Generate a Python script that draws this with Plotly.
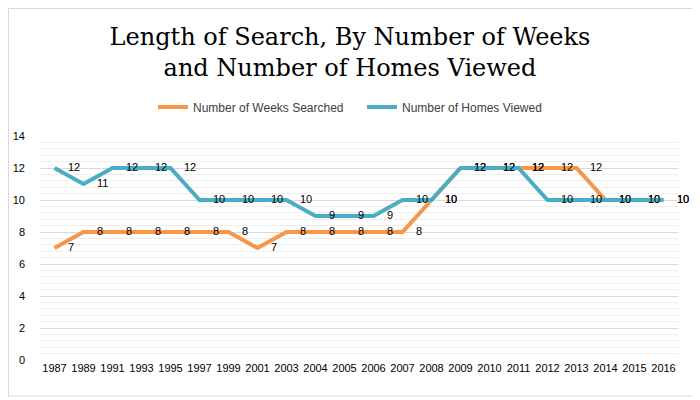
import plotly.graph_objs as go

# Chart data
years = ['1987', '1989', '1991', '1993', '1995', '1997', '1999', '2001', '2003', '2004', '2005',
         '2006', '2007', '2008', '2009', '2010', '2011', '2012', '2013', '2014', '2015', '2016']
weeks_searched = [7, 8, 8, 8, 8, 8, 8, 7, 8, 8, 8, 8, 8, 10, 12, 12, 12, 12, 12, 10, 10, 10]
homes_viewed = [12, 11, 12, 12, 12, 10, 10, 10, 10, 9, 9, 9, 10, 10, 12, 12, 12, 10, 10, 10, 10, 10]

# the page body adds an 8px offset, so the figure is drawn 8px smaller
W, H = 692, 392
margin = dict(l=32, r=22, t=128, b=40)
pw = W - margin['l'] - margin['r']
ph = H - margin['t'] - margin['b']


def line_trace(y_values, name, color):
    return go.Scatter(
        x=years, y=y_values, name=name,
        mode='lines+markers+text',
        line=dict(color=color, width=4),
        marker=dict(size=20, color='rgba(0,0,0,0)'),
        text=[str(v) for v in y_values],
        textposition='middle right',
        textfont=dict(family='Liberation Sans, Arial', size=11, color='#000000'),
        cliponaxis=False,
        hoverinfo='x+y+name'
    )


traces = [
    line_trace(weeks_searched, 'Number of Weeks Searched', '#F79646'),
    line_trace(homes_viewed, 'Number of Homes Viewed', '#4BACC6'),
]

layout = go.Layout(
    width=W, height=H,
    margin=margin,
    paper_bgcolor='white',
    plot_bgcolor='white',
    title=dict(
        text='Length of Search, By Number of Weeks<br>and Number of Homes Viewed',
        font=dict(family='DejaVu Serif, Liberation Serif, serif', size=24, color='#000000'),
        x=342 / W, xanchor='center', xref='container',
        y=1 - 37 / H, yanchor='middle', yref='container'
    ),
    showlegend=True,
    legend=dict(
        orientation='h', x=(145 - margin['l']) / pw, xanchor='left',
        y=1 + (margin['t'] - 99) / ph, yanchor='middle',
        font=dict(family='Liberation Sans, Arial', size=12, color='#404040'),
        itemwidth=30, entrywidth=164, entrywidthmode='pixels'
    ),
    xaxis=dict(
        type='category',
        automargin=False,
        showgrid=False,
        showline=False,
        ticks='',
        tickangle=0,
        tickfont=dict(family='Liberation Sans Narrow, Liberation Sans, Arial', size=11, color='#000000'),
        range=[-0.5, len(years) - 0.5]
    ),
    yaxis=dict(
        range=[0, 14],
        dtick=2,
        automargin=False,
        showgrid=True,
        gridcolor='#D9D9D9',
        gridwidth=1,
        zeroline=False,
        showline=False,
        ticks='',
        tickfont=dict(family='Liberation Sans, Arial', size=11, color='#000000'),
        ticklabelstandoff=14,
        minor=dict(dtick=0.4, showgrid=True, gridcolor='#EEEEEE', gridwidth=1)
    ),
    shapes=[dict(
        type='rect', xref='paper', yref='paper',
        x0=(0.5 - margin['l']) / pw, x1=(688 - margin['l']) / pw,
        y0=-(margin['b'] - (H - 388)) / ph, y1=(H - margin['b'] - 0.5) / ph,
        line=dict(color='#D9D9D9', width=1)
    )]
)

fig = go.Figure(data=traces, layout=layout)
fig.write_html("out.html")
